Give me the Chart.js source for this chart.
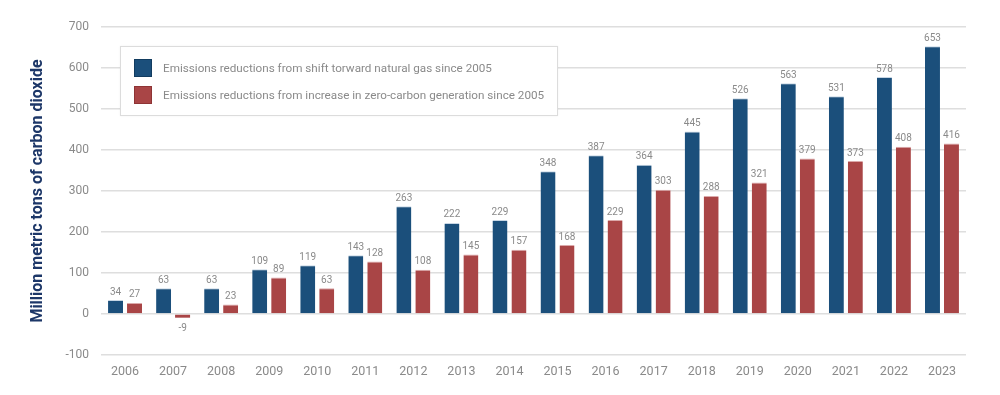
<!DOCTYPE html>
<html>
<head>
<meta charset="utf-8">
<script src="https://cdn.jsdelivr.net/npm/chart.js@4"></script>
<style>
  html, body { margin: 0; padding: 0; background: #fff; }
  #wrap { position: relative; width: 1000px; height: 395px; font-family: Roboto, "Noto Sans", sans-serif; }
  #legend {
    position: absolute; left: 120px; top: 46px; width: 436px; height: 68px;
    background: #fff; border: 1px solid #dcdcdc; box-shadow: 0 0 2px rgba(0,0,0,0.06);
  }
  .item { position: absolute; left: 13px; height: 18px; font-size: 11.7px; color: #8a8a8a; line-height: 18px; white-space: nowrap; }
  .item span.box { position: absolute; left: 0; top: 0; width: 16px; height: 16px; border: 1px solid; }
  .item span.txt { position: absolute; left: 29px; top: 0; }
</style>
</head>
<body>
<div id="wrap">
  <canvas id="chart" width="1000" height="395"></canvas>
  <div id="legend"></div>
</div>
<script>
// Chart data
const years = ["2006","2007","2008","2009","2010","2011","2012","2013","2014","2015","2016","2017","2018","2019","2020","2021","2022","2023"];
const gasShift = [34, 63, 63, 109, 119, 143, 263, 222, 229, 348, 387, 364, 445, 526, 563, 531, 578, 653];
const zeroCarbon = [27, -9, 23, 89, 63, 128, 108, 145, 157, 168, 229, 303, 288, 321, 379, 373, 408, 416];
const seriesNames = [
  "Emissions reductions from shift torward natural gas since 2005",
  "Emissions reductions from increase in zero-carbon generation since 2005"
];
const yTicks = [-100, 0, 100, 200, 300, 400, 500, 600, 700];

const blue = "#1b4f7b";
const red = "#a94546";

// Value labels above / below each bar
const valueLabels = {
  id: "valueLabels",
  afterDatasetsDraw(chart) {
    const ctx = chart.ctx;
    ctx.save();
    ctx.font = "10px Roboto, sans-serif";
    ctx.fillStyle = "#8a8a8a";
    ctx.textAlign = "center";
    ctx.textBaseline = "middle";
    chart.data.datasets.forEach((ds, i) => {
      chart.getDatasetMeta(i).data.forEach((bar, j) => {
        const v = ds.data[j];
        const y = v >= 0 ? bar.y - 8 : bar.y + 11;
        ctx.fillText(String(v), bar.x, y);
      });
    });
    ctx.restore();
  }
};

const ctx = document.getElementById("chart").getContext("2d");
new Chart(ctx, {
  type: "bar",
  data: {
    labels: years,
    datasets: [
      { label: seriesNames[0], data: gasShift, backgroundColor: blue, borderColor: "#c7d6e4", borderWidth: { top: 1 }, borderSkipped: "bottom" },
      { label: seriesNames[1], data: zeroCarbon, backgroundColor: red, borderColor: "#dba9aa", borderWidth: { top: 1 }, borderSkipped: "bottom" }
    ]
  },
  options: {
    responsive: false,
    animation: false,
    layout: { padding: { top: 27, right: 34, bottom: 0, left: 0 } },
    categoryPercentage: 0.79,
    barPercentage: 0.79,
    plugins: { legend: { display: false }, tooltip: { enabled: false } },
    scales: {
      x: {
        grid: { display: false, drawTicks: false },
        border: { display: false },
        ticks: { color: "#8a8a8a", font: { family: "Roboto", size: 12.5 }, padding: 9 },
        afterFit: s => { s.height = 40; }
      },
      y: {
        min: -100, max: 700,
        afterBuildTicks: s => { s.ticks = yTicks.map(v => ({ value: v })); },
        grid: { color: "#dedede", lineWidth: 1.5, drawTicks: false },
        border: { display: false },
        ticks: { color: "#8a8a8a", font: { family: "Roboto", size: 12 }, padding: 12 },
        title: {
          display: true,
          text: "Million metric tons of carbon dioxide",
          color: "#1d3768",
          font: { family: "Roboto", size: 16, weight: "bold" },
          padding: { top: 28, bottom: 0 }
        },
        afterFit: s => { s.width = 101; }
      }
    }
  },
  plugins: [valueLabels]
});

// HTML legend from the series names
const legend = document.getElementById("legend");
[[blue, "#123c60"], [red, "#8e3435"]].forEach((c, i) => {
  const item = document.createElement("div");
  item.className = "item";
  item.style.top = (12 + i * 27) + "px";
  item.innerHTML = `<span class="box" style="background:${c[0]};border-color:${c[1]}"></span><span class="txt">${seriesNames[i]}</span>`;
  legend.appendChild(item);
});
</script>
</body>
</html>
